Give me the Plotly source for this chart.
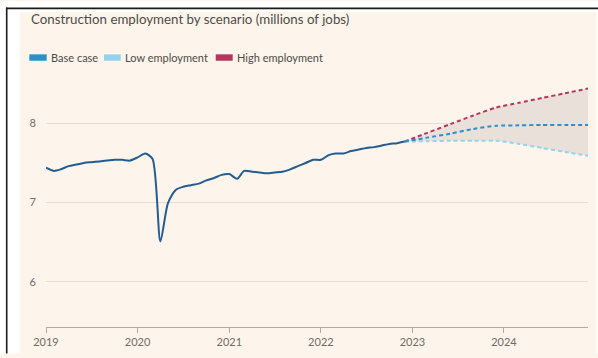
import pandas as pd
import plotly.graph_objects as go

# Monthly construction employment, millions of jobs
actual_start = "2019-01-01"
actual_values = [
    7.44, 7.40, 7.42, 7.46, 7.48, 7.50, 7.51, 7.52, 7.53, 7.54, 7.54, 7.53,  # 2019
    7.57, 7.62, 7.55, 6.51, 6.99, 7.16, 7.20, 7.22, 7.24, 7.28, 7.31, 7.35,  # 2020
    7.36, 7.30, 7.40, 7.39, 7.38, 7.37, 7.38, 7.39, 7.42, 7.46, 7.50, 7.54,  # 2021
    7.54, 7.60, 7.62, 7.62, 7.65, 7.67, 7.69, 7.70, 7.72, 7.74, 7.75, 7.77,  # 2022
]
actual_dates = pd.date_range(actual_start, periods=len(actual_values), freq="MS")

# Scenario projections (quarterly), starting from the last observed month
scenario_dates = ["2022-12-01", "2023-03-01", "2023-06-01", "2023-09-01", "2023-12-01",
                  "2024-03-01", "2024-06-01", "2024-09-01", "2024-12-01"]
base_case = [7.77, 7.82, 7.87, 7.93, 7.97, 7.975, 7.98, 7.98, 7.98]
low_employment = [7.77, 7.775, 7.78, 7.78, 7.78, 7.74, 7.69, 7.64, 7.59]
high_employment = [7.77, 7.88, 7.99, 8.10, 8.20, 8.26, 8.32, 8.38, 8.44]

legend_labels = ["Base case", "Low employment", "High employment"]
y_ticks = [6, 7, 8]

CREAM = "#fdf5ec"
ACTUAL = "#255c90"
BASE = "#2a8ecf"
LOW = "#93d3ee"
HIGH = "#b7355d"
BAND = "#e9e0d9"
GRID = "#e7ddd4"
AXIS = "#b3aaa3"
TEXT = "#504a46"
TICKTEXT = "#716a64"
FONT = "Lato"

W_PX, H_PX = 598, 358
L, R, T, B = 46, 10, 76, 27
PW = W_PX - L - R
PH = H_PX - T - B


def px_x(p):
    return (p - L) / PW


def px_y(p):
    return (H_PX - B - p) / PH


fig = go.Figure()

# shaded range between the low and high scenarios
fig.add_trace(go.Scatter(x=scenario_dates, y=low_employment, mode="lines",
                         line=dict(width=0, shape="spline", smoothing=0.6),
                         hoverinfo="skip", showlegend=False))
fig.add_trace(go.Scatter(x=scenario_dates, y=high_employment, mode="lines",
                         line=dict(width=0, shape="spline", smoothing=0.6),
                         fill="tonexty", fillcolor=BAND,
                         hoverinfo="skip", showlegend=False))

for vals, col in [(low_employment, LOW), (high_employment, HIGH), (base_case, BASE)]:
    fig.add_trace(go.Scatter(x=scenario_dates, y=vals, mode="lines",
                             line=dict(color=col, width=2, dash="4px,3px",
                                       shape="spline", smoothing=0.6),
                             showlegend=False))

fig.add_trace(go.Scatter(x=actual_dates, y=actual_values, mode="lines",
                         line=dict(color=ACTUAL, width=2, shape="spline", smoothing=0.7),
                         showlegend=False))

shapes = [
    # white frame strips and black border
    dict(type="rect", xref="paper", yref="paper", x0=px_x(0), x1=px_x(20),
         y0=px_y(H_PX), y1=px_y(0), fillcolor="white", line_width=0, layer="above"),
    dict(type="rect", xref="paper", yref="paper", x0=px_x(0), x1=px_x(W_PX),
         y0=px_y(11), y1=px_y(0), fillcolor="white", line_width=0, layer="above"),
    dict(type="rect", xref="paper", yref="paper", x0=px_x(596.5), x1=px_x(W_PX),
         y0=px_y(H_PX), y1=px_y(0), fillcolor="white", line_width=0, layer="above"),
    dict(type="line", xref="paper", yref="paper", x0=px_x(6), x1=px_x(W_PX),
         y0=px_y(7.3), y1=px_y(7.3), line=dict(color="#1a1a1a", width=1.6), layer="above"),
    dict(type="line", xref="paper", yref="paper", x0=px_x(6.7), x1=px_x(6.7),
         y0=px_y(6.5), y1=px_y(H_PX), line=dict(color="#1a1a1a", width=1.6), layer="above"),
]

annotations = [
    dict(text="Construction employment by scenario (millions of jobs)",
         xref="paper", yref="paper", x=px_x(28.5), y=px_y(18.5),
         xanchor="left", yanchor="middle", showarrow=False,
         font=dict(family=FONT, size=13.3, color=TEXT)),
]

# legend swatches with labels
legend_items = [(legend_labels[0], BASE, 29.3, 46.7),
                (legend_labels[1], LOW, 104.0, 120.7),
                (legend_labels[2], HIGH, 215.7, 232.7)]
for label, col, sx0, sx1 in legend_items:
    shapes.append(dict(type="rect", xref="paper", yref="paper",
                       x0=px_x(sx0), x1=px_x(sx1), y0=px_y(60.5), y1=px_y(54.0),
                       fillcolor=col, line_width=0, layer="above"))
    annotations.append(dict(text=label, xref="paper", yref="paper",
                            x=px_x(sx1 + 2), y=px_y(57.3), xanchor="left", yanchor="middle",
                            showarrow=False, font=dict(family=FONT, size=11, color=TEXT)))

fig.update_layout(
    width=W_PX, height=H_PX,
    margin=dict(l=L, r=R, t=T, b=B, pad=0),
    paper_bgcolor=CREAM, plot_bgcolor="rgba(0,0,0,0)",
    shapes=shapes, annotations=annotations,
    font=dict(family=FONT, color=TICKTEXT, size=11),
    showlegend=False,
    xaxis=dict(range=["2019-01-01", "2024-12-01"], type="date",
               tickvals=[f"{y}-01-01" for y in range(2019, 2025)],
               tickformat="%Y", showgrid=False, zeroline=False,
               showline=True, linecolor=AXIS, linewidth=1,
               ticks="outside", ticklen=5, tickcolor=AXIS, tickwidth=1,
               tickfont=dict(family=FONT, size=11, color=TICKTEXT)),
    yaxis=dict(range=[5.43, 5.43 + PH / 80.5], tickvals=y_ticks,
               showgrid=True, gridcolor=GRID, gridwidth=1, zeroline=False,
               showline=False, ticks="", ticklabelstandoff=9,
               tickfont=dict(family=FONT, size=11, color=TICKTEXT)),
)

fig.write_html("out.html")
